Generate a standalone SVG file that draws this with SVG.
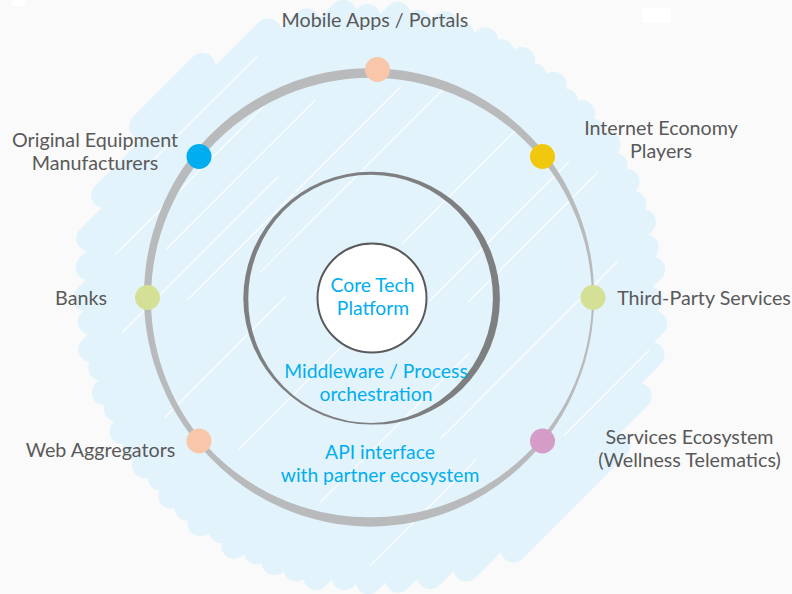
<svg xmlns="http://www.w3.org/2000/svg" width="792" height="594" viewBox="0 0 792 594">
<style>
.blob line{stroke:#e3f3fc;stroke-width:26;stroke-linecap:round}
.gap line{stroke:#ffffff;stroke-width:1.5;stroke-linecap:round;opacity:0.8}
.lbl{font-family:Lato,"Liberation Sans",sans-serif;font-size:19.7px;fill:#595959;text-anchor:middle}
.blu{font-family:Lato,"Liberation Sans",sans-serif;font-size:19.3px;fill:#00aeef;text-anchor:middle}
</style>
<rect x="0" y="0" width="792" height="594" fill="#fafafa"/>
<rect x="12" y="0" width="14" height="6" fill="#ffffff"/>
<rect x="642" y="8" width="29" height="15" fill="#ffffff"/>
<g id="scribble" transform="translate(370,297) rotate(-45)">
<g class="blob">
<line x1="-40" y1="-282" x2="45" y2="-282"/>
<line x1="-116" y1="-260" x2="116" y2="-260"/>
<line x1="-157" y1="-240" x2="150" y2="-240"/>
<line x1="-178" y1="-220" x2="182" y2="-220"/>
<line x1="-202" y1="-200" x2="196" y2="-200"/>
<line x1="-215" y1="-180" x2="219" y2="-180"/>
<line x1="-234" y1="-160" x2="228" y2="-160"/>
<line x1="-240" y1="-140" x2="246" y2="-140"/>
<line x1="-255" y1="-120" x2="250" y2="-120"/>
<line x1="-258" y1="-100" x2="263" y2="-100"/>
<line x1="-270" y1="-80" x2="266" y2="-80"/>
<line x1="-272" y1="-60" x2="275" y2="-60"/>
<line x1="-278" y1="-40" x2="272" y2="-40"/>
<line x1="-276" y1="-20" x2="280" y2="-20"/>
<line x1="-281" y1="0" x2="276" y2="0"/>
<line x1="-278" y1="20" x2="280" y2="20"/>
<line x1="-280" y1="40" x2="274" y2="40"/>
<line x1="-270" y1="60" x2="276" y2="60"/>
<line x1="-272" y1="80" x2="266" y2="80"/>
<line x1="-260" y1="100" x2="263" y2="100"/>
<line x1="-255" y1="120" x2="252" y2="120"/>
<line x1="-244" y1="140" x2="246" y2="140"/>
<line x1="-236" y1="160" x2="230" y2="160"/>
<line x1="-216" y1="180" x2="219" y2="180"/>
<line x1="-202" y1="200" x2="196" y2="200"/>
<line x1="-180" y1="220" x2="182" y2="220"/>
<line x1="-155" y1="240" x2="158" y2="240"/>
<line x1="-124" y1="260" x2="120" y2="260"/>
<line x1="-77" y1="280" x2="70" y2="280"/>
</g>
<g class="gap">
<line x1="-60" y1="-250" x2="90" y2="-250"/>
<line x1="-150" y1="-210" x2="60" y2="-210"/>
<line x1="-110" y1="-178" x2="100" y2="-178"/>
<line x1="-200" y1="-150" x2="20" y2="-150"/>
<line x1="-131" y1="-127" x2="170" y2="-127"/>
<line x1="-60" y1="-95" x2="200" y2="-95"/>
<line x1="-230" y1="-60" x2="-60" y2="-60"/>
<line x1="60" y1="-15" x2="222" y2="-15"/>
<line x1="-200" y1="15" x2="-40" y2="15"/>
<line x1="40" y1="45" x2="236" y2="45"/>
<line x1="66" y1="73" x2="250" y2="73"/>
<line x1="-180" y1="110" x2="30" y2="110"/>
<line x1="-50" y1="150" x2="200" y2="150"/>
<line x1="-190" y1="190" x2="-40" y2="190"/>
<line x1="40" y1="235" x2="160" y2="235"/>
</g>
</g>
<g id="rings">
<path id="outer-ring" fill="#b9babc" fill-rule="evenodd" d="M594,297.5 A226,226 0 0 1 577.2,383.9 A226,226 0 0 1 529.5,458 A226,226 0 0 1 457,508.6 A226,226 0 0 1 370.25,526.75 A226,226 0 0 1 283.5,508.6 A226,226 0 0 1 210.8,458.2 A226,226 0 0 1 161.7,384.6 A226,226 0 0 1 144,297.5 A226,226 0 0 1 160.8,210.1 A226,226 0 0 1 209.6,135.6 A226,226 0 0 1 283.2,85.7 A226,226 0 0 1 370.25,68.25 A226,226 0 0 1 457.2,85.9 A226,226 0 0 1 530.2,136.3 A226,226 0 0 1 577.9,210.8 A226,226 0 0 1 594,297.5 Z M592,297.5 A221,221 0 0 1 574.9,382.9 A221,221 0 0 1 526,454.5 A221,221 0 0 1 454,501.2 A221,221 0 0 1 370.25,517.25 A221,221 0 0 1 286.5,501.2 A221,221 0 0 1 214.7,454.3 A221,221 0 0 1 167.2,382.3 A221,221 0 0 1 151,297.5 A221,221 0 0 1 168.2,213.1 A221,221 0 0 1 215.9,141.9 A221,221 0 0 1 286.8,94.5 A221,221 0 0 1 370.25,77.75 A221,221 0 0 1 453.8,94.2 A221,221 0 0 1 525.3,141.2 A221,221 0 0 1 574.2,212.3 A221,221 0 0 1 592,297.5 Z"/>
</g>
<g id="middleware">
<path fill="#7e7f81" fill-rule="evenodd" d="M499.9,298.5 A128,128 0 0 1 490.1,347.8 A128,128 0 0 1 461.8,389.2 A128,128 0 0 1 419.7,415.9 A128,128 0 0 1 371.1,424.55 A128,128 0 0 1 322.8,415.2 A128,128 0 0 1 281.6,388 A128,128 0 0 1 253.5,347.2 A128,128 0 0 1 243.3,298.5 A128,128 0 0 1 253.3,249.7 A128,128 0 0 1 281.3,208.7 A128,128 0 0 1 322.6,181.3 A128,128 0 0 1 371.1,171.7 A128,128 0 0 1 419.7,181.1 A128,128 0 0 1 461.5,208.1 A128,128 0 0 1 489.9,249.3 A128,128 0 0 1 499.9,298.5 Z M492.9,298.5 A123,123 0 0 1 483.6,345.1 A123,123 0 0 1 457.6,385 A123,123 0 0 1 418.4,412.7 A123,123 0 0 1 371.1,423.05 A123,123 0 0 1 323.5,413.3 A123,123 0 0 1 283.4,386.2 A123,123 0 0 1 257.2,345.7 A123,123 0 0 1 248.3,298.5 A123,123 0 0 1 257.4,251.4 A123,123 0 0 1 283.7,211.1 A123,123 0 0 1 323.7,184.1 A123,123 0 0 1 371.1,174.7 A123,123 0 0 1 418.4,184.4 A123,123 0 0 1 457.9,211.7 A123,123 0 0 1 483.9,251.8 A123,123 0 0 1 492.9,298.5 Z"/>
<text class="blu" x="376" y="378">Middleware / Process</text>
<text class="blu" x="376" y="401">orchestration</text>
</g>
<g id="core">
<circle cx="372" cy="298" r="54.5" fill="#ffffff" stroke="#5a5a5c" stroke-width="2"/>
<text class="blu" x="372.5" y="292">Core Tech</text>
<text class="blu" x="373" y="315">Platform</text>
</g>
<g id="api">
<text class="blu" x="380" y="459">API interface</text>
<text class="blu" x="380" y="482">with partner ecosystem</text>
</g>
<g id="mobile">
<circle cx="377.5" cy="69.5" r="12.5" fill="#f8c6a9"/>
<text class="lbl" x="375" y="27">Mobile Apps / Portals</text>
</g>
<g id="oem">
<circle cx="199" cy="156.5" r="12.5" fill="#00aeef"/>
<text class="lbl" x="95" y="147">Original Equipment</text>
<text class="lbl" x="95" y="170">Manufacturers</text>
</g>
<g id="internet">
<circle cx="542.5" cy="156.5" r="12.5" fill="#f2c80f"/>
<text class="lbl" x="661" y="135">Internet Economy</text>
<text class="lbl" x="661" y="158">Players</text>
</g>
<g id="banks">
<circle cx="147.5" cy="297.5" r="12.5" fill="#d3e096"/>
<text class="lbl" x="81" y="305">Banks</text>
</g>
<g id="thirdparty">
<circle cx="593" cy="297.5" r="12.5" fill="#d3e096"/>
<text class="lbl" x="704" y="305">Third-Party Services</text>
</g>
<g id="webagg">
<circle cx="199" cy="441" r="12.5" fill="#f8c6a9"/>
<text class="lbl" x="100.5" y="457">Web Aggregators</text>
</g>
<g id="services">
<circle cx="542.5" cy="441" r="12.5" fill="#d59cc7"/>
<text class="lbl" x="689.5" y="444">Services Ecosystem</text>
<text class="lbl" x="689.5" y="467">(Wellness Telematics)</text>
</g>
</svg>
